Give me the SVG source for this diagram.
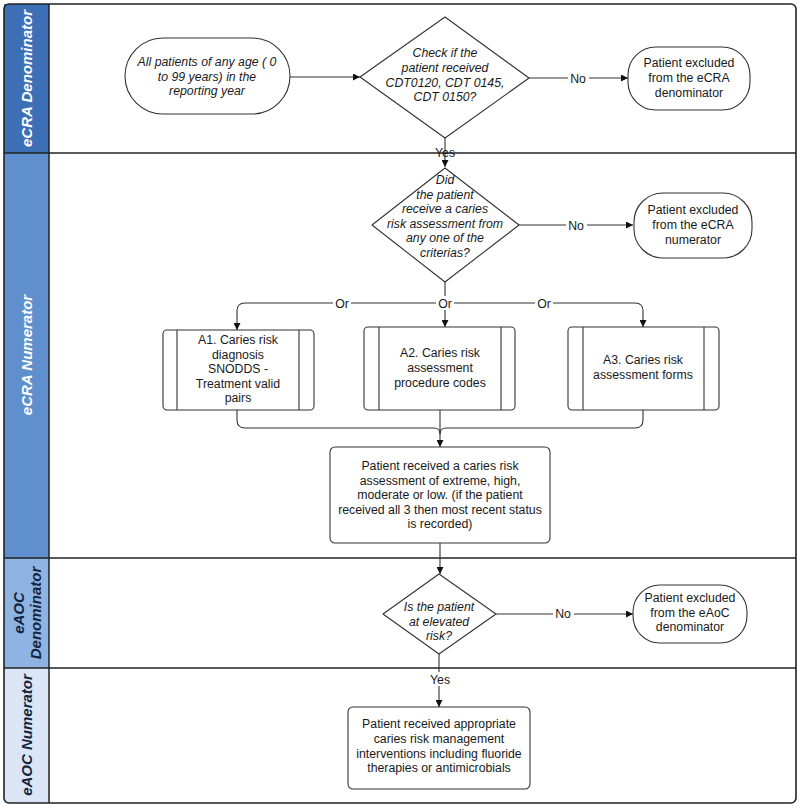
<svg xmlns="http://www.w3.org/2000/svg" width="800" height="808" viewBox="0 0 800 808">
<style>
  .node{fill:#fff;stroke:#333;stroke-width:1.1}
  .t{font-family:"Liberation Sans",Arial,sans-serif;font-size:12.3px;fill:#1a1a1a;text-anchor:middle}
  .i{font-style:italic}
  .conn{fill:none;stroke:#333;stroke-width:1.1}
  .lbl{fill:#fff}
  .hdr{font-family:"Liberation Sans",Arial,sans-serif;font-size:15px;font-weight:bold;font-style:italic;text-anchor:middle}
  .lane{stroke:#222;stroke-width:1.5}
</style>
<defs>
  <marker id="arr" viewBox="0 0 10 10" refX="10" refY="5" markerWidth="9" markerHeight="7" markerUnits="userSpaceOnUse" orient="auto">
    <path d="M0,0 L10,5 L0,10 z" fill="#111"/>
  </marker>
</defs>
<rect x="0" y="0" width="800" height="808" fill="#fff"/>

<g id="lanes">
  <rect x="4" y="4" width="45" height="149" fill="#3d6fb7"/>
  <rect x="4" y="153" width="45" height="405" fill="#5f8fcd"/>
  <rect x="4" y="558" width="45" height="110" fill="#8db4e3"/>
  <rect x="4" y="668" width="45" height="135" fill="#dae6f5"/>
  <line class="lane" x1="49" y1="4" x2="49" y2="803"/>
  <line class="lane" x1="4" y1="153" x2="796" y2="153"/>
  <line class="lane" x1="4" y1="558" x2="796" y2="558"/>
  <line class="lane" x1="4" y1="668" x2="796" y2="668"/>
  <rect x="4" y="4" width="792" height="799" rx="5" fill="none" stroke="#222" stroke-width="1.6"/>
  <text class="hdr" fill="#fff" transform="translate(32,78.5) rotate(-90)">eCRA Denominator</text>
  <text class="hdr" fill="#fff" transform="translate(32,355) rotate(-90)">eCRA Numerator</text>
  <text class="hdr" fill="#14243d" transform="translate(24,613) rotate(-90)">eAOC</text>
  <text class="hdr" fill="#14243d" transform="translate(41,613) rotate(-90)">Denominator</text>
  <text class="hdr" fill="#14243d" transform="translate(32,735) rotate(-90)">eAOC Numerator</text>
</g>

<g id="connectors">
  <path class="conn" d="M290,77 L360,77" marker-end="url(#arr)"/>
  <path class="conn" d="M529,78 L628,78" marker-end="url(#arr)"/>
  <path class="conn" d="M445,138 L445,167" marker-end="url(#arr)"/>
  <path class="conn" d="M519,225 L633,225" marker-end="url(#arr)"/>
  <path class="conn" d="M445,282 L445,303 L245,303 Q237,303 237,311 L237,330" marker-end="url(#arr)"/>
  <path class="conn" d="M445,303 L635,303 Q643,303 643,311 L643,327" marker-end="url(#arr)"/>
  <path class="conn" d="M445,303 L445,327" marker-end="url(#arr)"/>
  <path class="conn" d="M237,410 L237,420 Q237,428 245,428 L434,428 Q440,428 440,434"/>
  <path class="conn" d="M643,410 L643,420 Q643,428 635,428 L446,428 Q440,428 440,434"/>
  <path class="conn" d="M440,410 L440,447" marker-end="url(#arr)"/>
  <path class="conn" d="M440,543 L440,574" marker-end="url(#arr)"/>
  <path class="conn" d="M496,614 L633,614" marker-end="url(#arr)"/>
  <path class="conn" d="M439,654 L439,707" marker-end="url(#arr)"/>
  <rect class="lbl" x="568" y="71" width="21" height="14"/>
  <text class="t" x="578" y="82.5">No</text>
  <rect class="lbl" x="566" y="218" width="21" height="14"/>
  <text class="t" x="576" y="229.5">No</text>
  <rect class="lbl" x="553" y="607" width="21" height="14"/>
  <text class="t" x="563" y="618">No</text>
  <text class="t" x="445" y="156.5">Yes</text>
  <rect class="lbl" x="428" y="672" width="24" height="14"/>
  <text class="t" x="440" y="683.5">Yes</text>
  <rect class="lbl" x="333" y="296" width="18" height="14"/>
  <text class="t" x="342" y="307.5">Or</text>
  <rect class="lbl" x="436" y="296" width="18" height="14"/>
  <text class="t" x="445" y="307.5">Or</text>
  <rect class="lbl" x="535" y="296" width="18" height="14"/>
  <text class="t" x="544" y="307.5">Or</text>
</g>

<g id="start">
  <rect class="node" x="125" y="38" width="165" height="76" rx="38"/>
  <text class="t i" x="207" y="66">All patients of any age ( 0</text>
  <text class="t i" x="207" y="80.5">to 99 years) in the</text>
  <text class="t i" x="207" y="95">reporting year</text>
</g>

<g id="decision1">
  <path class="node" d="M445,17 L529,78 L445,138 L360,77 Z" stroke-linejoin="round"/>
  <text class="t i" x="445" y="57">Check if the</text>
  <text class="t i" x="445" y="72">patient received</text>
  <text class="t i" x="445" y="86.5">CDT0120, CDT 0145,</text>
  <text class="t i" x="445" y="101">CDT 0150?</text>
</g>

<g id="excluded1">
  <rect class="node" x="628" y="47" width="122" height="63" rx="28"/>
  <text class="t" x="689" y="67">Patient excluded</text>
  <text class="t" x="689" y="82">from the eCRA</text>
  <text class="t" x="689" y="97">denominator</text>
</g>

<g id="decision2">
  <path class="node" d="M445,168 L519,225 L445,282 L372,225 Z" stroke-linejoin="round"/>
  <text class="t i" x="445" y="184">Did</text>
  <text class="t i" x="445" y="198.5">the patient</text>
  <text class="t i" x="445" y="213">receive a caries</text>
  <text class="t i" x="445" y="227.5">risk assessment from</text>
  <text class="t i" x="445" y="242">any one of the</text>
  <text class="t i" x="445" y="256.5">criterias?</text>
</g>

<g id="excluded2">
  <rect class="node" x="634" y="193" width="118" height="65" rx="29"/>
  <text class="t" x="693" y="214">Patient excluded</text>
  <text class="t" x="693" y="229">from the eCRA</text>
  <text class="t" x="693" y="243.5">numerator</text>
</g>

<g id="a1">
  <rect class="node" x="163" y="330" width="151" height="80" rx="4"/>
  <line class="node" x1="177" y1="330" x2="177" y2="410"/>
  <line class="node" x1="299" y1="330" x2="299" y2="410"/>
  <text class="t" x="238" y="344">A1. Caries risk</text>
  <text class="t" x="238" y="358.5">diagnosis</text>
  <text class="t" x="238" y="373">SNODDS -</text>
  <text class="t" x="238" y="387.5">Treatment valid</text>
  <text class="t" x="238" y="402">pairs</text>
</g>

<g id="a2">
  <rect class="node" x="364" y="327" width="151" height="83" rx="4"/>
  <line class="node" x1="379" y1="327" x2="379" y2="410"/>
  <line class="node" x1="501" y1="327" x2="501" y2="410"/>
  <text class="t" x="440" y="357">A2. Caries risk</text>
  <text class="t" x="440" y="372">assessment</text>
  <text class="t" x="440" y="386.5">procedure codes</text>
</g>

<g id="a3">
  <rect class="node" x="568" y="327" width="151" height="83" rx="4"/>
  <line class="node" x1="583" y1="327" x2="583" y2="410"/>
  <line class="node" x1="704" y1="327" x2="704" y2="410"/>
  <text class="t" x="643" y="364">A3. Caries risk</text>
  <text class="t" x="643" y="378.5">assessment forms</text>
</g>

<g id="result">
  <rect class="node" x="330" y="447" width="220" height="96" rx="5"/>
  <text class="t" x="440" y="470">Patient received a caries risk</text>
  <text class="t" x="440" y="484.5">assessment of extreme, high,</text>
  <text class="t" x="440" y="499">moderate or low. (if the patient</text>
  <text class="t" x="440" y="513.5">received all 3 then most recent status</text>
  <text class="t" x="440" y="528">is recorded)</text>
</g>

<g id="decision3">
  <path class="node" d="M439,574 L496,614 L439,654 L383,614 Z" stroke-linejoin="round"/>
  <text class="t i" x="439" y="611">Is the patient</text>
  <text class="t i" x="439" y="625.5">at elevated</text>
  <text class="t i" x="439" y="640">risk?</text>
</g>

<g id="excluded3">
  <rect class="node" x="633" y="585" width="114" height="58" rx="27"/>
  <text class="t" x="690" y="602">Patient excluded</text>
  <text class="t" x="690" y="616.5">from the eAoC</text>
  <text class="t" x="690" y="631">denominator</text>
</g>

<g id="management">
  <rect class="node" x="348" y="707" width="182" height="82" rx="5"/>
  <text class="t" x="439" y="728">Patient received appropriate</text>
  <text class="t" x="439" y="743">caries risk management</text>
  <text class="t" x="439" y="757.5">interventions including fluoride</text>
  <text class="t" x="439" y="772">therapies or antimicrobials</text>
</g>
</svg>
